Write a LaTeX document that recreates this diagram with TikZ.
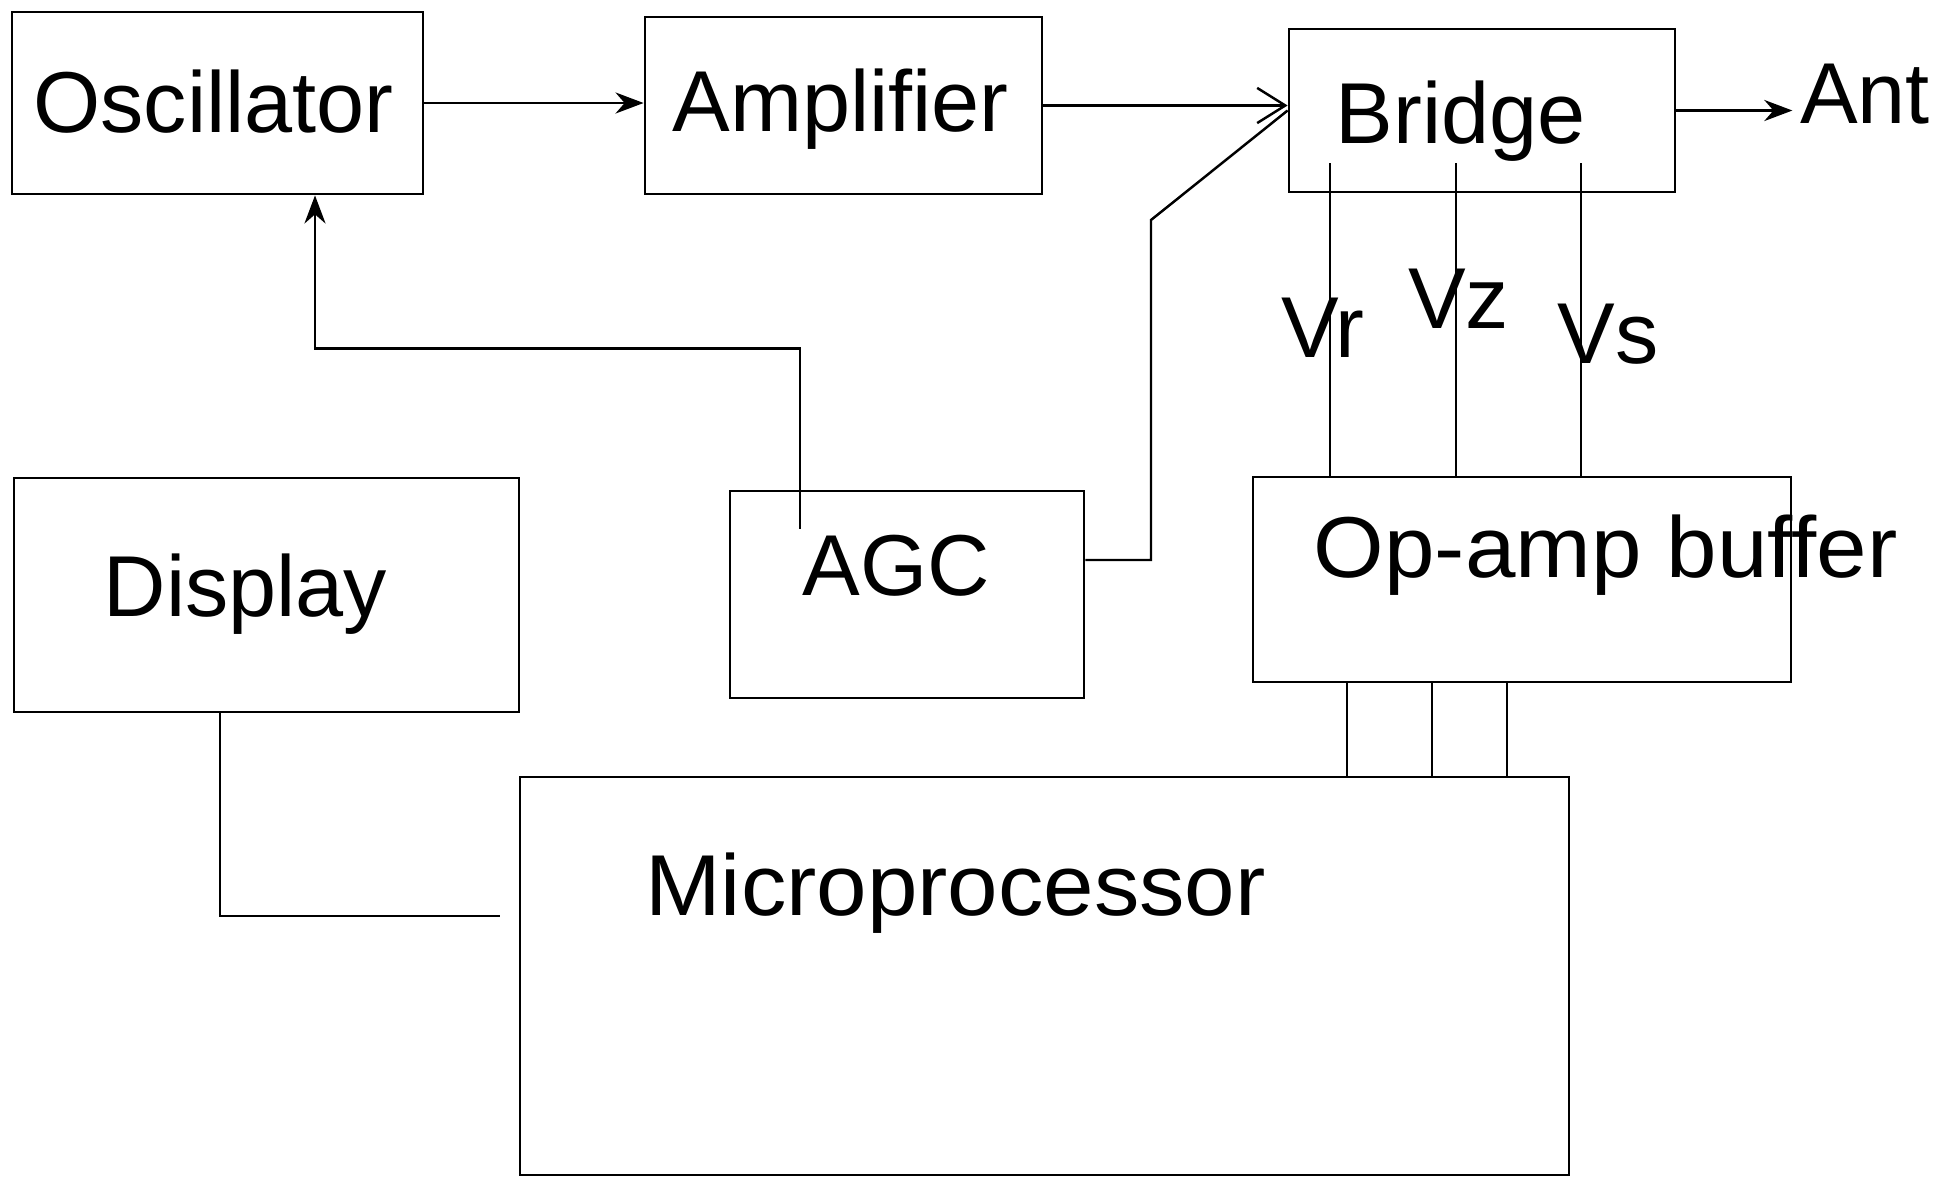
\documentclass[tikz,border=0pt]{standalone}
\usepackage{fontspec}
\setmainfont{Liberation Sans}
\usetikzlibrary{arrows.meta}

\begin{document}
\begin{tikzpicture}[
    blk/.style={draw, line width=0.8pt, inner sep=0pt},
    txt/.style={anchor=base, inner sep=2pt, font=\fontsize{24.6pt}{29pt}\selectfont},
    wire/.style={line width=0.7pt},
    arr/.style={wire, -{Stealth[length=8pt,width=6pt]}}
  ]

\useasboundingbox (0,0) rectangle (19.40,-11.77);
\fill[white] (0,0) rectangle (19.40,-11.77);

% blocks
\node[blk, minimum width=4.11cm, minimum height=1.82cm] (osc) at (2.175,-1.03) {};
\node[blk, minimum width=3.97cm, minimum height=1.77cm] (amp) at (8.435,-1.055) {};
\node[blk, minimum width=3.86cm, minimum height=1.63cm] (bridge) at (14.82,-1.105) {};
\node[blk, minimum width=5.05cm, minimum height=2.34cm] (display) at (2.665,-5.95) {};
\node[blk, minimum width=3.54cm, minimum height=2.07cm] (agc) at (9.07,-5.945) {};
\node[blk, minimum width=5.38cm, minimum height=2.05cm] (opamp) at (15.22,-5.795) {};
\node[blk, minimum width=10.49cm, minimum height=3.98cm] (micro) at (10.445,-9.76) {};

% texts
\node[txt] (osctxt) at (2.135,-1.32) {Oscillator};
\node[txt] (amptxt) at (8.405,-1.31) {Amplifier};
\node[txt] (bridgetxt) at (14.605,-1.43) {Bridge};
\node[txt] (ant) at (18.65,-1.23) {Ant};
\node[txt] (displaytxt) at (2.455,-6.16) {Display};
\node[txt] (agctxt) at (8.965,-5.95) {AGC};
\node[txt, xscale=1.05] (opamptxt) at (16.055,-5.77) {Op-amp buffer};
\node[txt, xscale=1.05] (microtxt) at (9.555,-9.15) {Microprocessor};

% signal chain
\draw[arr] (osc.east) -- (osc.east -| amp.west);
\draw[wire, -{Straight Barb[length=8pt,width=10pt]}] (amp.east) -- (amp.east -| bridge.west);
\draw[arr] (bridge.east) -- (bridge.east -| ant.west);

% AGC feedback to oscillator
\draw[arr] ([xshift=-1.07cm,yshift=-0.39cm]agc.north) -- ++(0,1.80) -| ([xshift=0.975cm]osc.south);

% AGC to bridge
\coordinate (kink) at (11.51,-2.20);
\draw[wire] ([yshift=0.345cm]agc.east) -| (kink) -- (bridge.west);

% bridge outputs
\foreach \dx/\lx/\ly/\lbl in {-1.52/13.23/-3.57/Vr, -0.26/14.585/-3.28/Vz, 0.99/16.08/-3.63/Vs} {
  \draw[wire] ([xshift=\dx cm, yshift=0.30cm]bridge.south) -- ([xshift=\dx cm]bridge.south |- opamp.north);
  \node[txt] (\lbl) at (\lx,\ly) {\lbl};
}

% buffer to microprocessor
\foreach \dx in {-1.75,-0.90,-0.15}
  \draw[wire] ([xshift=\dx cm]opamp.south) -- ([xshift=\dx cm]opamp.south |- micro.north);

% display link
\draw[wire, shorten >=0.19cm] ([xshift=-0.465cm]display.south) |- ([yshift=0.60cm]micro.west);

\end{tikzpicture}
\end{document}
